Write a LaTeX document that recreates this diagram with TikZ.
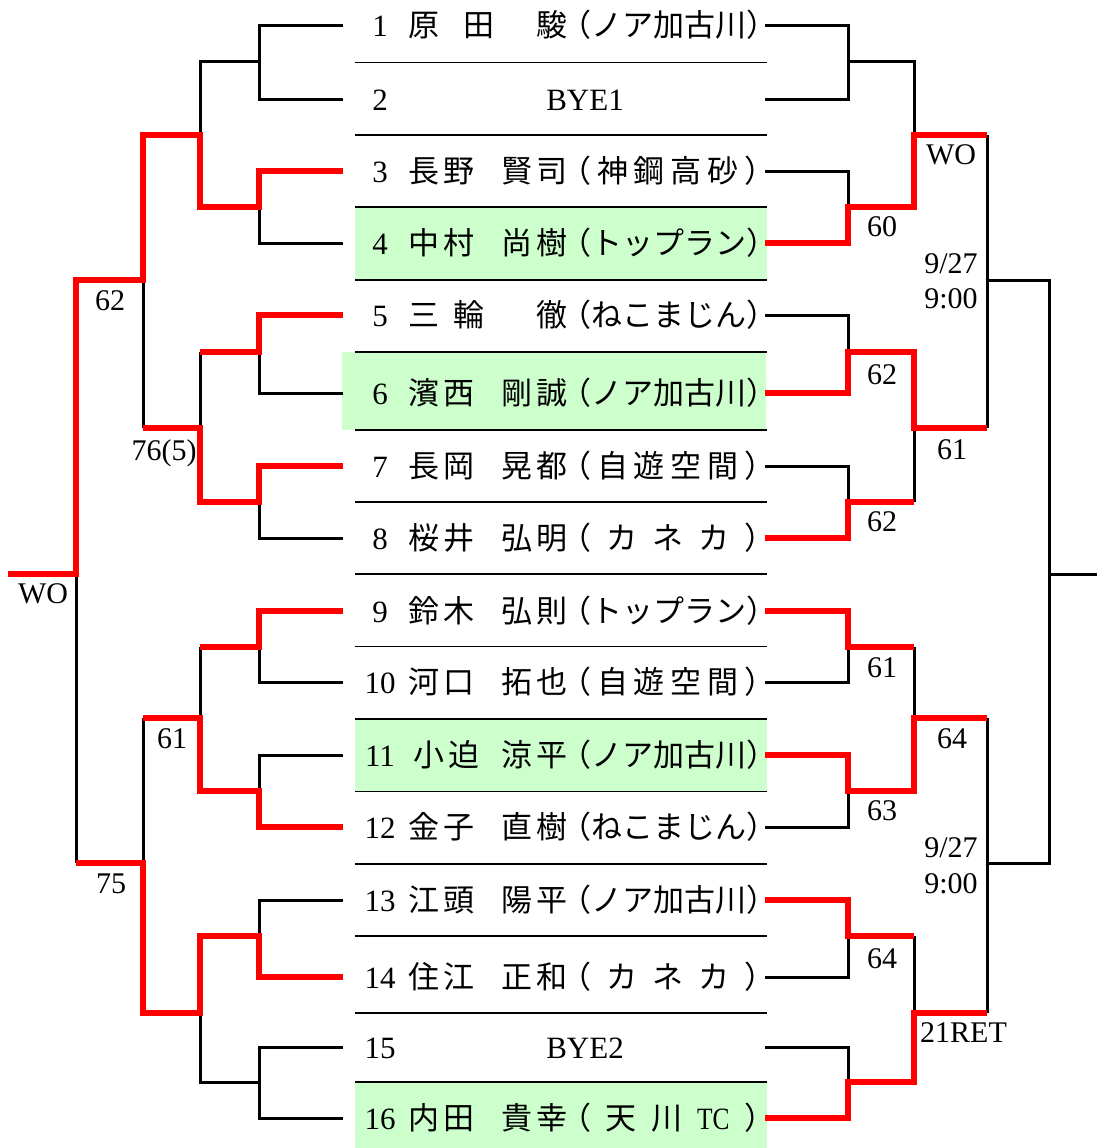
\documentclass[tikz,border=0pt]{standalone}
\usepackage{fontspec}
\usepackage{graphicx}
\setmainfont{Liberation Serif}
\newfontfamily\jpfont{Noto Sans CJK JP}

\definecolor{pass}{HTML}{CCFFCC}

\newcommand\ks{\hspace{4.5pt}}
\newcommand\entryfont{\fontsize{31}{36}\selectfont}
\newcommand\scorefont{\fontsize{30}{35}\selectfont}

\tikzset{
  won/.style={red, line width=6.5pt},
  lost/.style={black, line width=3pt},
  rowline/.style={black, line width=1.5pt},
  num/.style={font=\entryfont, anchor=base, yshift=-11pt, inner sep=0pt},
  sei/.style={font=\entryfont\jpfont, anchor=base west, yshift=-11pt, inner sep=0pt},
  mei/.style={font=\entryfont\jpfont, anchor=base east, yshift=-11pt, inner sep=0pt},
  club/.style={font=\entryfont\jpfont, anchor=base west, yshift=-11pt, inner sep=0pt},
  score/.style={font=\scorefont, anchor=base, inner sep=0pt}
}

% #1 draw number, #2 row y, #3 family name, #4 given name, #5 club
\newcommand{\entry}[5]{%
  \node[num] (no#1) at (380,#2) {#1};
  \node[sei] (sei#1) at (408,#2) {#3};
  \node[mei] (mei#1) at (568,#2) {#4};
  \node[club] (club#1) at (560,#2) {\makebox[215pt][s]{#5}};
}

\begin{document}
\begin{tikzpicture}[x=1pt, y=-1pt]
  \useasboundingbox (0,0) rectangle (1097,1148);

  % Winners of the day
  \fill[pass] (355,207) rectangle (767,280);
  \fill[pass] (342,352) rectangle (766,430);
  \fill[pass] (355,719) rectangle (767,791.5);
  \fill[pass] (355,1082) rectangle (767,1148);

  % Row lines
  \foreach \y in {62.5,135,207,280,352,430,502,574,646.5,719,791.5,864,936,1013,1082}
    \draw[rowline] (355,\y) -- (767,\y);

  % Players
  \entry{1}{26}{原\hspace{24pt}田}{駿}{（\hfill ノ\hfill ア\hfill 加\hfill 古\hfill 川\hfill ）}
  \node[num] (no2) at (380,99) {2};
  \node[num] (bye1) at (585,99) {BYE1};
  \entry{3}{171}{長\ks 野}{賢\ks 司}{（\hfill 神\hfill 鋼\hfill 高\hfill 砂\hfill ）}
  \entry{4}{243}{中\ks 村}{尚\ks 樹}{（\hfill ト\hfill ッ\hfill プ\hfill ラ\hfill ン\hfill ）}
  \entry{5}{315}{三\hspace{14pt}輪}{徹}{（\hfill ね\hfill こ\hfill ま\hfill じ\hfill ん\hfill ）}
  \entry{6}{393}{濱\ks 西}{剛\ks 誠}{（\hfill ノ\hfill ア\hfill 加\hfill 古\hfill 川\hfill ）}
  \entry{7}{466}{長\ks 岡}{晃\ks 都}{（\hfill 自\hfill 遊\hfill 空\hfill 間\hfill ）}
  \entry{8}{538}{桜\ks 井}{弘\ks 明}{（\hfill カ\hfill ネ\hfill カ\hfill ）}
  \entry{9}{611}{鈴\ks 木}{弘\ks 則}{（\hfill ト\hfill ッ\hfill プ\hfill ラ\hfill ン\hfill ）}
  \entry{10}{682}{河\ks 口}{拓\ks 也}{（\hfill 自\hfill 遊\hfill 空\hfill 間\hfill ）}
  \entry{11}{755}{\hspace{5pt}小\ks 迫}{涼\ks 平\hspace{3pt}}{（\hfill ノ\hfill ア\hfill 加\hfill 古\hfill 川\hfill ）}
  \entry{12}{827}{金\ks 子}{直\ks 樹}{（\hfill ね\hfill こ\hfill ま\hfill じ\hfill ん\hfill ）}
  \entry{13}{900}{江\ks 頭}{陽\ks 平}{（\hfill ノ\hfill ア\hfill 加\hfill 古\hfill 川\hfill ）}
  \entry{14}{977}{住\ks 江}{正\ks 和}{（\hfill カ\hfill ネ\hfill カ\hfill ）}
  \node[num] (no15) at (380,1047) {15};
  \node[num] (bye2) at (585,1047) {BYE2};
  \entry{16}{1118}{内\ks 田}{貴\ks 幸}{（\hfill 天\hfill 川\hfill {\rmfamily\scalebox{0.82}[1]{TC}}\hfill ）}

  % Left side, black first
  \draw[lost] (343,26) -| (259,99) -- (343,99);
  \draw[lost] (259,62) -| (200,135);
  \draw[lost] (259,207) |- (343,243);
  \draw[lost] (259,352) |- (343,393);
  \draw[lost] (200,352) -- (200,428);
  \draw[lost] (143,280) -- (143,428);
  \draw[lost] (259,502) |- (343,538);
  \draw[lost] (76,574) -- (76,863);
  \draw[lost] (259,647) |- (343,682);
  \draw[lost] (200,647) -- (200,718);
  \draw[lost] (259,791) |- (343,755);
  \draw[lost] (143,718) -- (143,863);
  \draw[lost] (343,900) -| (259,936);
  \draw[lost] (200,1013) |- (259,1082);
  \draw[lost] (343,1047) -| (259,1118) -- (343,1118);

  % Left side, winners
  \draw[won] (343,171) -| (259,207) -| (200,135) -| (143,280) -| (76,574) -- (8,574);
  \draw[won] (343,315) -| (259,352) -- (200,352);
  \draw[won] (343,466) -| (259,502) -| (200,428) -- (143,428);
  \draw[won] (343,611) -| (259,647) -- (200,647);
  \draw[won] (343,827) -| (259,791) -| (200,718) -- (143,718);
  \draw[won] (343,977) -| (259,936) -| (200,1013) -| (143,863) -- (76,863);

  % Right side, black first
  \draw[lost] (765,26) -| (848,99) -- (765,99);
  \draw[lost] (848,62) -| (914,135);
  \draw[lost] (765,171) -| (848,207);
  \draw[lost] (987,135) -- (987,428);
  \draw[lost] (987,280) -| (1049,863) -- (987,863);
  \draw[lost] (1049,574) -- (1097,574);
  \draw[lost] (765,315) -| (848,352);
  \draw[lost] (765,466) -| (848,502);
  \draw[lost] (914,428) -- (914,502);
  \draw[lost] (765,682) -| (848,647);
  \draw[lost] (914,647) -- (914,718);
  \draw[lost] (987,718) -- (987,1013);
  \draw[lost] (765,827) -| (848,791);
  \draw[lost] (765,977) -| (848,936);
  \draw[lost] (914,936) -- (914,1013);
  \draw[lost] (765,1047) -| (848,1082);

  % Right side, winners
  \draw[won] (765,243) -| (848,207) -| (914,135) -- (987,135);
  \draw[won] (765,393) -| (848,352) -| (914,428) -- (987,428);
  \draw[won] (765,538) -| (848,502) -- (914,502);
  \draw[won] (765,611) -| (848,647) -- (914,647);
  \draw[won] (765,755) -| (848,791) -| (914,718) -- (987,718);
  \draw[won] (765,900) -| (848,936) -- (914,936);
  \draw[won] (765,1118) -| (848,1082) -| (914,1013) -- (987,1013);

  % Scores, left
  \node[score] (l62) at (110,310) {62};
  \node[score] (l765) at (164,460) {76(5)};
  \node[score] (lwo) at (43,603) {WO};
  \node[score] (l61) at (172,748) {61};
  \node[score] (l75) at (111,893) {75};

  % Scores, right
  \node[score] (rwo) at (951,164) {WO};
  \node[score] (r60) at (882,236) {60};
  \node[score] (r62a) at (882,384) {62};
  \node[score] (r61a) at (952,459) {61};
  \node[score] (r62b) at (882,531) {62};
  \node[score] (r61b) at (882,677) {61};
  \node[score] (r64a) at (952,748) {64};
  \node[score] (r63) at (882,820) {63};
  \node[score] (r64b) at (882,968) {64};
  \node[score, anchor=base west] (rret) at (920,1042) {21RET};

  % Dates
  \node[score] (date1) at (951,273) {9/27};
  \node[score] (time1) at (951,308) {9:00};
  \node[score] (date2) at (951,857) {9/27};
  \node[score] (time2) at (951,893) {9:00};
\end{tikzpicture}
\end{document}
